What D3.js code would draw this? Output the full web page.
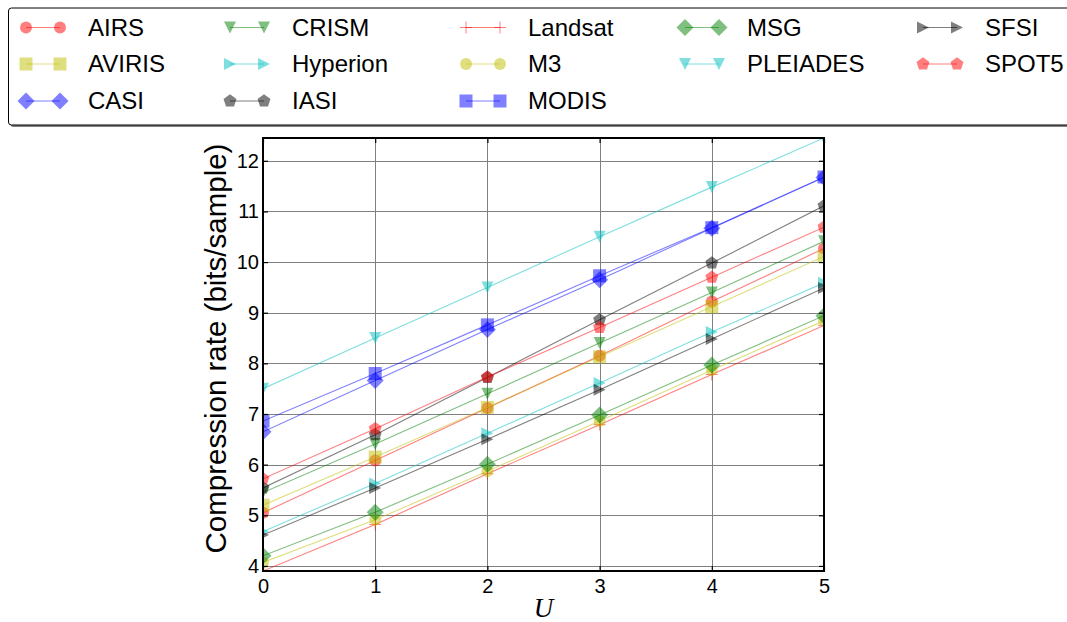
<!DOCTYPE html>
<html>
<head>
<meta charset="utf-8">
<script src="https://cdn.jsdelivr.net/npm/d3@7"></script>
<style>
  html, body { margin: 0; padding: 0; background: #fff; }
  svg { display: block; }
  text { font-family: "Liberation Sans", Arial, Helvetica, sans-serif; fill: #000; }
</style>
</head>
<body>
<svg id="chart" width="1067" height="622"></svg>
<script>
// Compression rate vs. U for each sensor
const uValues = [0, 1, 2, 3, 4, 5];
const xTicks = [0, 1, 2, 3, 4, 5];
const yTicks = [4, 5, 6, 7, 8, 9, 10, 11, 12];

const sensors = ["AIRS", "AVIRIS", "CASI", "CRISM", "Hyperion", "IASI", "Landsat",
                 "M3", "MODIS", "MSG", "PLEIADES", "SFSI", "SPOT5"];

const AIRS     = [5.05, 6.08, 7.12, 8.15, 9.22, 10.27];
const AVIRIS   = [5.20, 6.15, 7.13, 8.13, 9.12, 10.11];
const CASI     = [6.65, 7.66, 8.67, 9.65, 10.67, 11.67];
const CRISM    = [5.45, 6.41, 7.40, 8.40, 9.40, 10.41];
const Hyperion = [4.68, 5.63, 6.62, 7.61, 8.62, 9.59];
const IASI     = [5.54, 6.59, 7.72, 8.86, 9.98, 11.11];
const Landsat  = [3.90, 4.82, 5.82, 6.79, 7.78, 8.75];
const M3       = [4.07, 4.91, 5.87, 6.86, 7.87, 8.84];
const MODIS    = [6.86, 7.80, 8.76, 9.73, 10.68, 11.68];
const MSG      = [4.20, 5.06, 6.01, 6.98, 7.97, 8.94];
const PLEIADES = [7.50, 8.50, 9.50, 10.50, 11.48, 12.45];
const SFSI     = [4.61, 5.54, 6.50, 7.48, 8.48, 9.49];
const SPOT5    = [5.72, 6.71, 7.73, 8.71, 9.70, 10.69];

const seriesValues = [AIRS, AVIRIS, CASI, CRISM, Hyperion, IASI, Landsat,
                      M3, MODIS, MSG, PLEIADES, SFSI, SPOT5];

// Style cycles: colours repeat every 6, marker shapes every 7
const colorCycle = ["#ff0000", "#bfbf00", "#0000ff", "#008000", "#00bfbf", "#000000"];
const markerCycle = ["circle", "square", "diamond", "tridown", "triright", "pentagon", "plus"];

const series = sensors.map((name, i) => ({
  name,
  values: seriesValues[i],
  color: colorCycle[i % colorCycle.length],
  marker: markerCycle[i % markerCycle.length]
}));

function markerPath(type) {
  const r = 6;
  switch (type) {
    case "circle":
      return `M${r},0A${r},${r},0,1,1,${-r},0A${r},${r},0,1,1,${r},0Z`;
    case "square": {
      const h = 6.5;
      return `M${-h},${-h}H${h}V${h}H${-h}Z`;
    }
    case "diamond": {
      const d = 8.5;
      return `M0,${-d}L${d},0L0,${d}L${-d},0Z`;
    }
    case "tridown":
      return `M${-r},${-r}L${r},${-r}L0,${r}Z`;
    case "triright":
      return `M${-r},${-r}L${r},0L${-r},${r}Z`;
    case "pentagon": {
      const pts = d3.range(5).map(k => {
        const a = -Math.PI / 2 + k * 2 * Math.PI / 5;
        return [6.8 * Math.cos(a), 6.8 * Math.sin(a)];
      });
      return "M" + pts.map(p => p.join(",")).join("L") + "Z";
    }
    case "plus":
      return `M${-r},0H${r}M0,${-r}V${r}`;
  }
}

function styleMarker(sel, s) {
  if (s.marker === "plus") {
    sel.attr("fill", "none").attr("stroke", s.color).attr("stroke-opacity", 0.5).attr("stroke-width", 1);
  } else {
    sel.attr("fill", s.color).attr("fill-opacity", 0.5).attr("stroke", "none");
  }
}

const svg = d3.select("#chart");

// Plot area
const plot = { left: 263, right: 824, top: 138, bottom: 571 };
const allValues = seriesValues.flat();
const x = d3.scaleLinear().domain(d3.extent(uValues)).range([plot.left, plot.right]);
const y = d3.scaleLinear().domain(d3.extent(allValues)).range([plot.bottom, plot.top]);

// Grid
const grid = svg.append("g").attr("stroke", "#808080").attr("stroke-width", 1);
grid.selectAll("line.gy").data(yTicks).join("line")
  .attr("x1", plot.left).attr("x2", plot.right)
  .attr("y1", d => Math.round(y(d)) + 0.5).attr("y2", d => Math.round(y(d)) + 0.5);
grid.selectAll("line.gx").data(xTicks).join("line")
  .attr("y1", plot.top).attr("y2", plot.bottom)
  .attr("x1", d => Math.round(x(d)) + 0.5).attr("x2", d => Math.round(x(d)) + 0.5);

// Series lines and markers, clipped to the plot area
svg.append("clipPath").attr("id", "plotclip").append("rect")
  .attr("x", plot.left).attr("y", plot.top)
  .attr("width", plot.right - plot.left).attr("height", plot.bottom - plot.top);

const lineGen = d3.line().x((d, i) => x(uValues[i])).y(d => y(d));
const seriesG = svg.append("g").attr("clip-path", "url(#plotclip)");
series.forEach(s => {
  const g = seriesG.append("g");
  g.append("path").attr("d", lineGen(s.values))
    .attr("fill", "none").attr("stroke", s.color).attr("stroke-opacity", 0.5)
    .attr("stroke-width", 1.1);
  g.selectAll("path.m").data(s.values).join("path")
    .attr("class", "m")
    .attr("d", markerPath(s.marker))
    .attr("transform", (d, i) => `translate(${x(uValues[i])},${y(d)})`)
    .call(styleMarker, s);
});

// Axes with inward ticks on all four sides
const axisG = svg.append("g");
const yLeft = d3.axisLeft(y).tickValues(yTicks).tickSize(-5).tickPadding(4).tickFormat(d3.format("d"));
const yRight = d3.axisRight(y).tickValues(yTicks).tickSize(-5).tickFormat("");
const xBottom = d3.axisBottom(x).tickValues(xTicks).tickSize(-5).tickPadding(8).tickFormat(d3.format("d"));
const xTop = d3.axisTop(x).tickValues(xTicks).tickSize(-5).tickFormat("");

function styleAxis(g) {
  g.select(".domain").remove();
  g.selectAll(".tick line").attr("stroke", "#000").attr("stroke-width", 1.2);
  g.selectAll(".tick text").style("font-size", "20px").style("font-family", '"Liberation Sans", Arial, sans-serif').attr("fill", "#000");
}
axisG.append("g").attr("transform", `translate(${plot.left},0)`).call(yLeft).call(styleAxis);
axisG.append("g").attr("transform", `translate(${plot.right},0)`).call(yRight).call(styleAxis);
axisG.append("g").attr("transform", `translate(0,${plot.bottom})`).call(xBottom).call(styleAxis);
axisG.append("g").attr("transform", `translate(0,${plot.top})`).call(xTop).call(styleAxis);

// Frame
svg.append("rect")
  .attr("x", plot.left).attr("y", plot.top)
  .attr("width", plot.right - plot.left).attr("height", plot.bottom - plot.top)
  .attr("fill", "none").attr("stroke", "#000").attr("stroke-width", 2);

// Axis titles
svg.append("text")
  .attr("transform", `translate(226,${(plot.top + plot.bottom) / 2 - 6}) rotate(-90)`)
  .attr("text-anchor", "middle")
  .style("font-size", "29.5px")
  .text("Compression rate (bits/sample)");

svg.append("text")
  .attr("x", (plot.left + plot.right) / 2)
  .attr("y", 617)
  .attr("text-anchor", "middle")
  .style("font-family", '"Liberation Serif", "DejaVu Serif", serif')
  .style("font-style", "italic")
  .style("font-size", "27px")
  .text("U");

// Legend: 5 columns filled top-to-bottom (3,3,3,2,2)
const legend = { x: 8.5, y: 8, w: 1080, h: 117 };
const legendG = svg.append("g");
legendG.append("rect")
  .attr("x", legend.x + 2).attr("y", legend.y + 2)
  .attr("width", legend.w).attr("height", legend.h).attr("rx", 3)
  .attr("fill", "#7f7f7f");
legendG.append("rect")
  .attr("x", legend.x).attr("y", legend.y)
  .attr("width", legend.w).attr("height", legend.h).attr("rx", 3)
  .attr("fill", "#fff").attr("stroke", "#000").attr("stroke-width", 1);

const colTextX = [88, 292, 528, 747, 985];
const colSizes = [3, 3, 3, 2, 2];
const rowY = [27.5, 64, 101];
const slots = [];
colSizes.forEach((n, c) => { for (let r = 0; r < n; r++) slots.push([c, r]); });

series.forEach((s, i) => {
  const [col, row] = slots[i];
  const tx = colTextX[col], ty = rowY[row];
  const m1 = tx - 62, m2 = tx - 28;
  const g = legendG.append("g");
  g.append("line").attr("x1", m1).attr("x2", m2).attr("y1", ty).attr("y2", ty)
    .attr("stroke", s.color).attr("stroke-opacity", 0.5).attr("stroke-width", 1.1);
  [m1, m2].forEach(mx => {
    g.append("path").attr("d", markerPath(s.marker))
      .attr("transform", `translate(${mx},${ty})`).call(styleMarker, s);
  });
  g.append("text").attr("x", tx).attr("y", ty).attr("dy", "0.35em")
    .style("font-size", "24px").text(s.name);
});
</script>
</body>
</html>
